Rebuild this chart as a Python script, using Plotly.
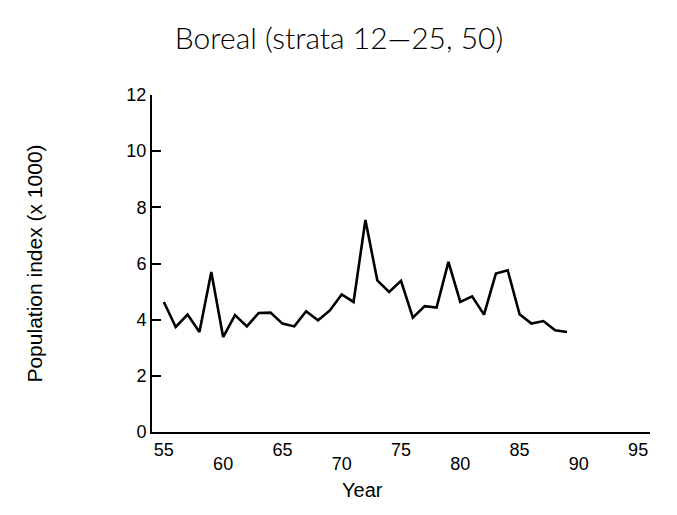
import plotly.graph_objects as go

years = list(range(55, 90))
index_values = [
    4.63, 3.74, 4.18, 3.56, 5.70, 3.38, 4.16, 3.76, 4.24, 4.25,
    3.86, 3.76, 4.30, 3.98, 4.33, 4.90, 4.63, 7.55, 5.40, 4.99,
    5.38, 4.07, 4.48, 4.43, 6.06, 4.63, 4.83, 4.18, 5.64, 5.76,
    4.19, 3.86, 3.95, 3.62, 3.56,
]
x_ticks_upper = [55, 65, 75, 85, 95]
x_ticks_lower = [60, 70, 80, 90]
y_ticks = [0, 2, 4, 6, 8, 10, 12]

fig = go.Figure()
fig.add_trace(
    go.Scatter(
        x=years,
        y=index_values,
        mode="lines",
        line=dict(color="black", width=2.6),
        showlegend=False,
    )
)
# invisible copy so the second (staggered) label axis gets drawn
fig.add_trace(
    go.Scatter(
        x=years,
        y=index_values,
        xaxis="x2",
        mode="lines",
        opacity=0,
        hoverinfo="skip",
        showlegend=False,
    )
)

fig.update_layout(
    width=677,
    height=515,
    paper_bgcolor="white",
    plot_bgcolor="white",
    margin=dict(l=144, r=35, t=87, b=91),
    title=dict(
        text="Boreal (strata 12\u201425, 50)",
        x=0.489,
        xanchor="center",
        y=0.94,
        yanchor="middle",
        font=dict(family="Lato", size=30, color="black", weight=300),
    ),
    font=dict(family="Liberation Sans, Arial", color="black"),
    xaxis=dict(
        range=[54, 96],
        tickvals=x_ticks_upper,
        ticks="",
        showline=True,
        linecolor="black",
        linewidth=2,
        showgrid=False,
        zeroline=False,
        tickfont=dict(size=18),
        ticklabelstandoff=0,
    ),
    xaxis2=dict(
        overlaying="x",
        matches="x",
        anchor="y",
        side="bottom",
        tickvals=x_ticks_lower,
        ticks="",
        showline=False,
        showgrid=False,
        zeroline=False,
        tickfont=dict(size=18),
        ticklabelstandoff=19,
    ),
    yaxis=dict(
        range=[0, 12],
        tickvals=y_ticks,
        ticks="inside",
        ticklen=9,
        tickwidth=1.5,
        tickcolor="black",
        showline=True,
        linecolor="black",
        linewidth=2,
        showgrid=False,
        zeroline=False,
        tickfont=dict(size=18),
        title=dict(text="Population index (x 1000)", font=dict(size=21), standoff=78),
    ),
)

fig.add_annotation(
    text="Year",
    xref="paper",
    yref="paper",
    x=0.4217,
    y=0,
    yshift=-58,
    xanchor="center",
    yanchor="middle",
    showarrow=False,
    font=dict(size=20),
)

fig.write_html("out.html")
